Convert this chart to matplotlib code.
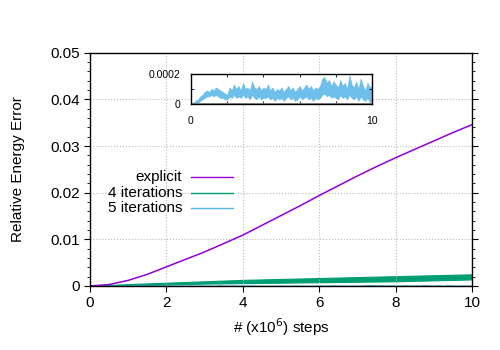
import matplotlib
matplotlib.use("Agg")
from matplotlib import pyplot as plt
from matplotlib.lines import Line2D
import numpy as np

plt.rcParams['font.family'] = ['Liberation Sans', 'DejaVu Sans']

# explicit scheme, read every 0.5 (x10^6 steps)
x_explicit = [0, 0.5, 1, 1.5, 2, 2.5, 3, 3.5, 4, 4.5, 5, 5.5, 6, 6.5, 7, 7.5, 8, 8.5, 9, 9.5, 10]
y_explicit = [0, 0.0003, 0.0012, 0.0025, 0.0041, 0.0057, 0.0073, 0.0091, 0.0109, 0.0130, 0.0151,
              0.0172, 0.0194, 0.0215, 0.0236, 0.0256, 0.0275, 0.0293, 0.0311, 0.0329, 0.0346]

# 4 iterations band (upper / lower envelope)
x_iter4 = [0, 1, 2, 3, 4, 5, 6, 7, 8, 9, 10]
iter4_hi = [0, 0.0004, 0.0007, 0.0010, 0.0013, 0.0015, 0.0017, 0.0019, 0.0021, 0.0023, 0.0025]
iter4_lo = [0, 0.0001, 0.0003, 0.0005, 0.0006, 0.0007, 0.0008, 0.0009, 0.0010, 0.0012, 0.0014]

# 5 iterations band (units of 1e-5), every 0.125
iter5_hi = [0, 1, 2, 3, 5, 6, 8, 9, 8, 10, 9, 11, 10, 9, 8, 7, 6, 11, 9, 13, 10, 12, 9, 14, 10, 11, 9,
            15, 11, 10, 12, 9, 11, 10, 13, 9, 11, 8, 10, 9, 11, 8, 10, 12, 9, 11, 8, 10, 12, 9, 11,
            13, 10, 12, 9, 11, 10, 12, 17, 18, 14, 16, 12, 15, 13, 11, 16, 12, 14, 10, 19, 13, 11,
            15, 10, 17, 12, 9, 14, 11, 12]
iter5_lo = [0, 0, 1, 1, 2, 3, 4, 5, 5, 6, 5, 6, 5, 4, 4, 3, 3, 5, 4, 6, 4, 5, 4, 6, 4, 5, 3, 6, 4, 3,
            5, 3, 4, 4, 5, 3, 4, 2, 4, 3, 4, 2, 4, 5, 3, 4, 2, 3, 5, 3, 4, 5, 3, 4, 2, 4, 3, 4, 6, 7,
            5, 6, 4, 5, 4, 3, 6, 4, 5, 3, 6, 4, 3, 5, 2, 5, 3, 2, 4, 1, 2]

c_explicit = '#9400d3'
c_iter4 = '#009e73'
c_iter5 = '#56b4e9'

x5 = np.linspace(0, 10, len(iter5_hi))
hi5 = np.array(iter5_hi) * 1e-5
lo5 = np.array(iter5_lo[:len(iter5_hi)] + [iter5_lo[-1]] * (len(iter5_hi) - len(iter5_lo))) * 1e-5

fig = plt.figure(figsize=(5, 3.5), dpi=100)
ax = fig.add_axes([0.18, 0.183, 0.764, 0.666])

ax.fill_between(x_iter4, iter4_lo, iter4_hi, color=c_iter4, lw=0.8, edgecolor=c_iter4)
ax.fill_between(x5, lo5, hi5, color=c_iter5, lw=0.5)
ax.plot(x_explicit, y_explicit, color=c_explicit, lw=1.1)

ax.set_xlim(0, 10)
ax.set_ylim(0, 0.05)
ax.set_xticks([0, 2, 4, 6, 8, 10])
ax.set_yticks([0, 0.01, 0.02, 0.03, 0.04, 0.05])
ax.set_yticklabels(['0', '0.01', '0.02', '0.03', '0.04', '0.05'])
ax.set_yticks(np.arange(0, 0.0501, 0.002), minor=True)
ax.tick_params(axis='both', which='major', direction='out', length=4, labelsize=11, width=0.8)
ax.tick_params(axis='y', which='both', right=True)
ax.tick_params(axis='y', which='minor', direction='out', length=2, width=0.6)
ax.grid(True, which='major', linestyle=':', color='#bbbbbb', lw=0.8)
for s in ax.spines.values():
    s.set_linewidth(1.0)
ax.set_xlabel('# (x10$^6$) steps', fontsize=11)
ax.set_ylabel('Relative Energy Error', fontsize=11, labelpad=18)

# gnuplot-style key: text right-aligned, sample line to the right
labels = ['explicit', '4 iterations', '5 iterations']
colors = [c_explicit, c_iter4, c_iter5]
rows = [0.468, 0.399, 0.335]
for lab, col, yy in zip(labels, colors, rows):
    ax.text(0.241, yy, lab, transform=ax.transAxes, ha='right', va='center', fontsize=11)
    ax.add_line(Line2D([0.264, 0.374], [yy, yy], transform=ax.transAxes, color=col, lw=1))

# inset
ins = fig.add_axes([0.382, 0.703, 0.362, 0.086])
ins.fill_between(x5, lo5, hi5, color=c_iter5, lw=0.4, alpha=0.85)
ins.axhline(0, color='#888888', lw=2.0)
ins.set_xlim(0, 10)
ins.set_ylim(0, 0.0002)
ins.set_xticks([0, 2, 4, 6, 8, 10])
ins.set_xticklabels(['0', '', '', '', '', '10'])
ins.set_yticks([0, 0.0001, 0.0002])
ins.set_yticklabels(['0', '', '0.0002'])
ins.tick_params(axis='both', direction='in', length=2.5, labelsize=7.5, width=0.6, top=True, right=True)
ins.tick_params(axis='x', pad=9)
ins.tick_params(axis='y', pad=8)
for s in ins.spines.values():
    s.set_linewidth(1.0)

fig.savefig('out.png', dpi=100)
